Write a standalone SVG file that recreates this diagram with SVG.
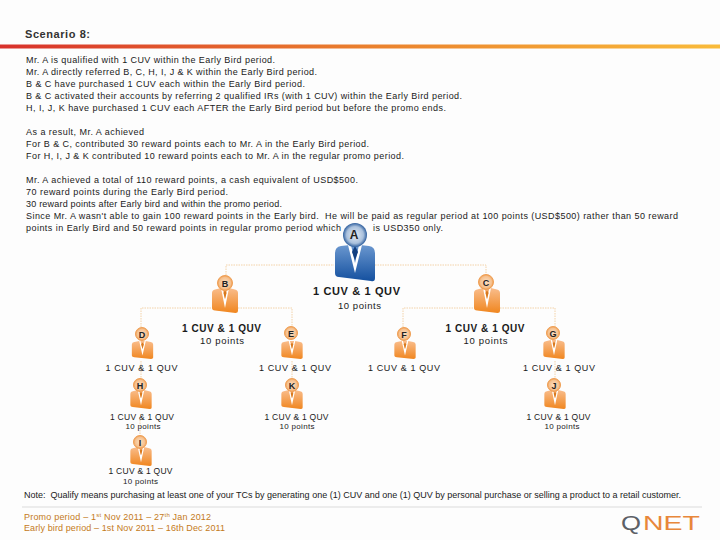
<svg xmlns="http://www.w3.org/2000/svg" width="720" height="540" viewBox="0 0 720 540">
<style>
text{font-family:"Liberation Sans",Arial,sans-serif;fill:#1a1a1a}
.b{font-size:9px}
.h{font-size:11px;font-weight:bold;fill:#333}
.c{font-size:9px;text-anchor:middle}
.cb{font-size:11px;font-weight:bold;text-anchor:middle}
.s{font-size:8.5px;text-anchor:middle}
.xs{font-size:8px;text-anchor:middle}
.l{font-size:9px;font-weight:bold;text-anchor:middle;fill:#222}
.o{font-size:9px;fill:#c47a1a}
.line{fill:none;stroke:#f3d2a8;stroke-width:1;stroke-dasharray:1.5 1}
.hd{fill:url(#ho);stroke:#f0a055;stroke-width:1}
</style>
<defs>
<linearGradient id="rule" x1="0" x2="1" y1="0" y2="0"><stop offset="0" stop-color="#d8312c"/><stop offset=".5" stop-color="#ea7f2d"/><stop offset="1" stop-color="#f9bb3a"/></linearGradient>
<linearGradient id="og" x1="0" x2="0" y1="0" y2="1"><stop offset="0" stop-color="#f9bd8c"/><stop offset="1" stop-color="#f0861f"/></linearGradient>
<linearGradient id="bg" x1="0" x2="0" y1="0" y2="1"><stop offset="0" stop-color="#6a97cf"/><stop offset="1" stop-color="#14509f"/></linearGradient>
<radialGradient id="ho"><stop offset="0" stop-color="#fbe0c4"/><stop offset=".75" stop-color="#f6c08d"/><stop offset="1" stop-color="#ef9a4c"/></radialGradient>
<radialGradient id="hb"><stop offset="0" stop-color="#e8eef6"/><stop offset=".7" stop-color="#a9c0dc"/><stop offset="1" stop-color="#2f5f9e"/></radialGradient>
<g id="po">
<path d="M-13 5Q-13 2-10 1.500L-4 0 4 0 10 1.500Q13 2 13 5L13 23Q13 25 10.500 25L-10 22.500Q-13 22-13 20Z" fill="url(#og)"/>
<path d="M-4 0L0 20 4 0 2.500 0 0 11-2.500 0Z" fill="#fff"/>
<path d="M0 2L1.500 5 0 11-1.500 5Z" fill="#d9791d"/>
</g>
<g id="pb">
<path d="M-20 8Q-20 2-14 1L-5 0 5 0 14 1Q20 2 20 8L20 33Q20 37 16 36L-16 32Q-20 32-20 28Z" fill="url(#bg)"/>
<path d="M-7 0L0 28 7 0 4 0 0 18-4 0Z" fill="#fff"/>
<path d="M0 1L3 7 0 15-3 7Z" fill="#123f80"/>
<circle cx="0" cy="-10" r="12" fill="url(#hb)"/>
</g>
</defs>
<rect width="720" height="540" fill="#fdfdfd"/>
<text class="h" x="25" y="38" textLength="65">Scenario 8:</text>
<rect x="0" y="44.500" width="720" height="4" fill="url(#rule)"/>
<g id="body">
<text class="b" x="26" y="63" textLength="249">Mr. A is qualified with 1 CUV within the Early Bird period.</text>
<text class="b" x="26" y="75" textLength="291">Mr. A directly referred B, C, H, I, J &amp; K within the Early Bird period.</text>
<text class="b" x="26" y="87" textLength="279">B &amp; C have purchased 1 CUV each within the Early Bird period.</text>
<text class="b" x="26" y="99" textLength="436">B &amp; C activated their accounts by referring 2 qualified IRs (with 1 CUV) within the Early Bird period.</text>
<text class="b" x="26" y="111" textLength="420">H, I, J, K have purchased 1 CUV each AFTER the Early Bird period but before the promo ends.</text>
<text class="b" x="26" y="135" textLength="118">As a result, Mr. A achieved</text>
<text class="b" x="26" y="147" textLength="343">For B &amp; C, contributed 30 reward points each to Mr. A in the Early Bird period.</text>
<text class="b" x="26" y="159" textLength="378">For H, I, J &amp; K contributed 10 reward points each to Mr. A in the regular promo period.</text>
<text class="b" x="26" y="183" textLength="332">Mr. A achieved a total of 110 reward points, a cash equivalent of USD$500.</text>
<text class="b" x="26" y="195" textLength="202">70 reward points during the Early Bird period.</text>
<text class="b" x="26" y="207" textLength="256">30 reward points after Early bird and within the promo period.</text>
<text class="b" x="26" y="219" textLength="652" xml:space="preserve">Since Mr. A wasn't able to gain 100 reward points in the Early bird.  He will be paid as regular period at 100 points (USD$500) rather than 50 reward</text>
<text class="b" x="26" y="231" textLength="315">points in Early Bird and 50 reward points in regular promo period which</text>
<text class="b" x="373" y="231" textLength="70">is USD350 only.</text>
</g>
<g id="connectors">
<path class="line" d="M226 275V265H334M375 265H486V275"/>
<path class="line" d="M141 327V308H212M238 308H292V327"/>
<path class="line" d="M403 327V308H474M500 308H555V327"/>
<path class="line" d="M141 361V378M292 361V378M555 361V378M140 420V436"/>
</g>
<g id="node-A"><use href="#pb" x="355" y="245"/><text class="l" x="354" y="239" style="font-size:12px">A</text></g>
<g id="node-B"><use href="#po" x="225" y="288"/><circle class="hd" cx="225" cy="283" r="7.500"/><text class="l" x="225" y="286.500">B</text></g>
<g id="node-C"><use href="#po" x="487" y="288"/><circle class="hd" cx="486" cy="282" r="7.500"/><text class="l" x="486" y="285.500">C</text></g>
<g id="node-D"><use href="#po" transform="translate(142.500 341) scale(.82 .72)"/><circle class="hd" cx="142" cy="334" r="6.500"/><text class="l" x="142" y="337.500">D</text></g>
<g id="node-E"><use href="#po" transform="translate(292 341) scale(.82 .72)"/><circle class="hd" cx="291" cy="333" r="6.500"/><text class="l" x="291" y="336.500">E</text></g>
<g id="node-F"><use href="#po" transform="translate(405 341) scale(.82 .72)"/><circle class="hd" cx="404" cy="334" r="6.500"/><text class="l" x="404" y="337.500">F</text></g>
<g id="node-G"><use href="#po" transform="translate(554 340) scale(.82 .76)"/><circle class="hd" cx="553" cy="333" r="6.500"/><text class="l" x="553" y="336.500">G</text></g>
<g id="node-H"><use href="#po" transform="translate(141 390) scale(.82 .76)"/><circle class="hd" cx="140" cy="385" r="6.500"/><text class="l" x="140" y="388.500">H</text></g>
<g id="node-K"><use href="#po" transform="translate(292 390) scale(.82 .76)"/><circle class="hd" cx="292" cy="385" r="6.500"/><text class="l" x="292" y="388.500">K</text></g>
<g id="node-J"><use href="#po" transform="translate(555 390) scale(.82 .76)"/><circle class="hd" cx="554" cy="385" r="6.500"/><text class="l" x="554" y="388.500">J</text></g>
<g id="node-I"><use href="#po" transform="translate(141 447) scale(.82 .76)"/><circle class="hd" cx="140" cy="442" r="6.500"/><text class="l" x="140" y="445.500">I</text></g>
<g id="labels">
<text class="cb" x="356.500" y="295" textLength="87">1 CUV &amp; 1 QUV</text>
<text class="c" x="359.500" y="309" textLength="43" style="font-size:9.500px">10 points</text>
<text class="cb" x="221.500" y="332" textLength="79" style="font-size:10px">1 CUV &amp; 1 QUV</text>
<text class="c" x="222" y="344" textLength="44" style="font-size:9.500px">10 points</text>
<text class="cb" x="485" y="332" textLength="79" style="font-size:10px">1 CUV &amp; 1 QUV</text>
<text class="c" x="485.500" y="344" textLength="44" style="font-size:9.500px">10 points</text>
<text class="c" x="141.500" y="371" textLength="72">1 CUV &amp; 1 QUV</text>
<text class="c" x="295" y="371" textLength="72">1 CUV &amp; 1 QUV</text>
<text class="c" x="404" y="371" textLength="72">1 CUV &amp; 1 QUV</text>
<text class="c" x="559" y="371" textLength="72">1 CUV &amp; 1 QUV</text>
<text class="s" x="142" y="420" textLength="64">1 CUV &amp; 1 QUV</text>
<text class="xs" x="143" y="429" textLength="35">10 points</text>
<text class="s" x="296.500" y="420" textLength="64">1 CUV &amp; 1 QUV</text>
<text class="xs" x="297" y="429" textLength="35">10 points</text>
<text class="s" x="558.500" y="420" textLength="64">1 CUV &amp; 1 QUV</text>
<text class="xs" x="562" y="429" textLength="35">10 points</text>
<text class="s" x="140.500" y="474" textLength="64">1 CUV &amp; 1 QUV</text>
<text class="xs" x="140.500" y="484" textLength="35">10 points</text>
</g>
<text class="b" x="24" y="498" textLength="657" xml:space="preserve">Note:  Qualify means purchasing at least one of your TCs by generating one (1) CUV and one (1) QUV by personal purchase or selling a product to a retail customer.</text>
<rect x="22" y="506.500" width="680" height="1" fill="#dcdcdc"/>
<g id="footer">
<text class="o" x="24" y="520" letter-spacing=".2">Promo period – 1<tspan baseline-shift="super" font-size="6">st</tspan> Nov 2011 – 27<tspan baseline-shift="super" font-size="6">th</tspan> Jan 2012</text>
<text class="o" x="24" y="531" textLength="201">Early bird period – 1st Nov 2011 – 16th Dec 2011</text>
</g>
<g id="logo">
<text x="621" y="530" textLength="20" lengthAdjust="spacingAndGlyphs" style="font-size:21px;fill:#5c6066">Q</text>
<text x="643" y="530" textLength="57" lengthAdjust="spacingAndGlyphs" style="font-size:21px;fill:#e8873a">NET</text>
</g>
</svg>
